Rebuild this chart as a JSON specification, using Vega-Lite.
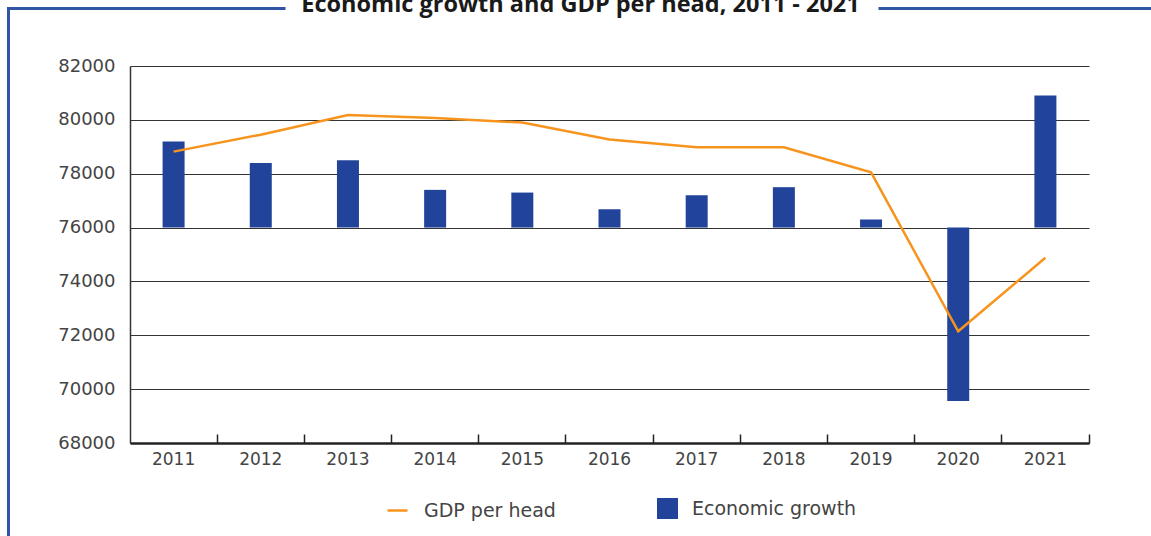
{
  "$schema": "https://vega.github.io/schema/vega-lite/v6.json",
  "width": 959,
  "height": 377,
  "autosize": {"type": "none"},
  "padding": {"left": 130, "top": 66, "right": 62, "bottom": 93},
  "background": "white",
  "title": {
    "text": "Economic growth and GDP per head, 2011 - 2021",
    "font": "Open Sans",
    "fontWeight": "bold",
    "fontSize": 23.5,
    "color": "#1a1a1a",
    "anchor": "middle",
    "frame": "group",
    "baseline": "alphabetic",
    "offset": -27,
    "dx": -29
  },
  "config": {
    "view": {"stroke": null},
    "font": "DejaVu Sans"
  },
  "layer": [
    {
      "data": {
        "values": [
          {"year": "2011", "gdp": 78820, "growth": 79200},
          {"year": "2012", "gdp": 79450, "growth": 78400},
          {"year": "2013", "gdp": 80180, "growth": 78500},
          {"year": "2014", "gdp": 80070, "growth": 77400},
          {"year": "2015", "gdp": 79900, "growth": 77300},
          {"year": "2016", "gdp": 79270, "growth": 76680},
          {"year": "2017", "gdp": 78980, "growth": 77200},
          {"year": "2018", "gdp": 78980, "growth": 77500},
          {"year": "2019", "gdp": 78050, "growth": 76300},
          {"year": "2020", "gdp": 72150, "growth": 69560},
          {"year": "2021", "gdp": 74880, "growth": 80900}
        ]
      },
      "encoding": {
        "x": {
          "field": "year",
          "type": "nominal",
          "sort": null,
          "title": null,
          "scale": {"paddingInner": 0, "paddingOuter": 0},
          "axis": {
            "labelAngle": 0,
            "labelFont": "DejaVu Sans",
            "labelFontSize": 17,
            "labelColor": "#444",
            "labelPadding": 17,
            "domainColor": "#222",
            "domainWidth": 2.5,
            "tickColor": "#222",
            "tickWidth": 1.5,
            "tickSize": -9,
            "bandPosition": 1,
            "grid": false
          }
        }
      },
      "layer": [
        {
          "mark": {"type": "bar", "size": 22},
          "encoding": {
            "y": {
              "field": "growth",
              "type": "quantitative",
              "title": null,
              "scale": {"domain": [68000, 82000], "nice": false, "zero": false},
              "axis": {
                "values": [68000, 70000, 72000, 74000, 76000, 78000, 80000, 82000],
                "format": "d",
                "labelFont": "DejaVu Sans",
                "labelFontSize": 18,
                "labelColor": "#444",
                "labelPadding": 15,
                "ticks": false,
                "domainColor": "#333",
                "domainWidth": 1.5,
                "gridColor": "#333",
                "gridWidth": 1
              }
            },
            "y2": {"datum": 76000},
            "color": {
              "datum": "Economic growth",
              "scale": {"range": ["#21439a"]},
              "legend": {
                "orient": "none",
                "legendX": 527,
                "legendY": 432,
                "padding": 0,
                "symbolType": "square",
                "symbolSize": 441,
                "symbolStrokeWidth": 0,
                "labelFont": "DejaVu Sans",
                "labelFontSize": 19,
                "labelColor": "#444",
                "labelOffset": 14,
                "labelLimit": 400,
                "title": null
              }
            }
          }
        },
        {
          "mark": {"type": "line", "strokeWidth": 2.5},
          "encoding": {
            "y": {"field": "gdp", "type": "quantitative"},
            "stroke": {
              "datum": "GDP per head",
              "scale": {"range": ["#f7941d"]},
              "legend": {
                "orient": "none",
                "legendX": 256,
                "legendY": 433,
                "padding": 0,
                "symbolType": "stroke",
                "symbolSize": 400,
                "symbolStrokeWidth": 2.5,
                "labelFont": "DejaVu Sans",
                "labelFontSize": 19,
                "labelColor": "#444",
                "labelOffset": 15,
                "labelLimit": 400,
                "title": null
              }
            }
          }
        }
      ]
    },
    {
      "data": {"values": [{"k": 0}]},
      "mark": {"type": "rule", "opacity": 0},
      "encoding": {
        "y": {
          "datum": 0,
          "type": "quantitative",
          "scale": {"domain": [0, 1], "range": [470, -58]},
          "axis": {"orient": "left", "offset": 122, "domainColor": "#2f55a4", "domainWidth": 3, "labels": false, "ticks": false, "grid": false, "title": null}
        }
      }
    },
    {
      "data": {"values": [{"k": 0}]},
      "mark": {"type": "rule", "opacity": 0},
      "encoding": {
        "x": {
          "datum": 0,
          "type": "quantitative",
          "scale": {"domain": [0, 1], "range": [-123.5, 155]},
          "axis": {"orient": "top", "offset": 58, "domainColor": "#2f55a4", "domainWidth": 3, "labels": false, "ticks": false, "grid": false, "title": null}
        }
      }
    },
    {
      "data": {"values": [{"k": 0}]},
      "mark": {"type": "rule", "opacity": 0},
      "encoding": {
        "x": {
          "datum": 0,
          "type": "quantitative",
          "scale": {"domain": [0, 1], "range": [748, 1030]},
          "axis": {"orient": "top", "offset": 58, "domainColor": "#2f55a4", "domainWidth": 3, "labels": false, "ticks": false, "grid": false, "title": null}
        }
      }
    }
  ],
  "resolve": {
    "scale": {"x": "independent", "y": "independent"},
    "axis": {"x": "independent", "y": "independent"}
  }
}
